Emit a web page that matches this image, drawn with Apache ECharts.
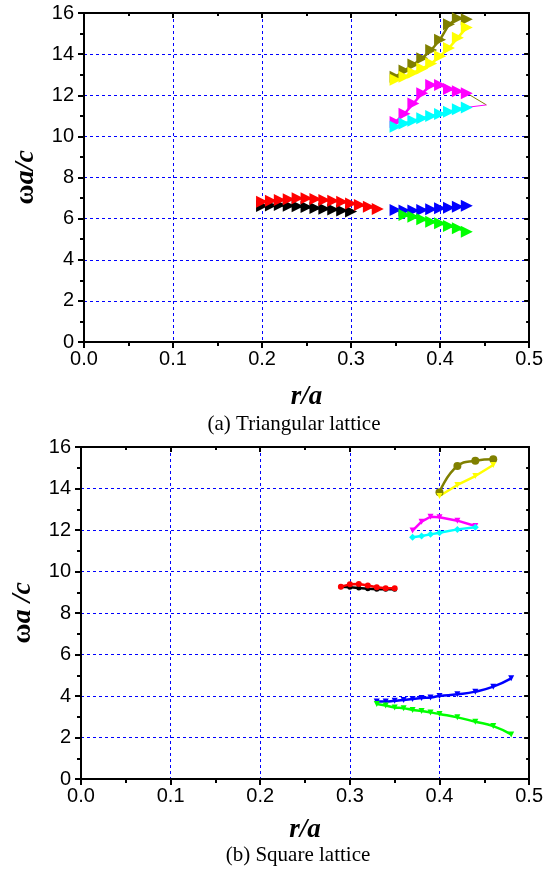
<!DOCTYPE html>
<html>
<head>
<meta charset="utf-8">
<script src="https://cdn.jsdelivr.net/npm/echarts@6/dist/echarts.min.js"></script>
<style>
html,body{margin:0;padding:0;background:#fff;}
#c{width:546px;height:870px;}
</style>
</head>
<body>
<div id="c"></div>
<script>
// ---------- data: (a) triangular lattice ----------
const triBlackR   = [0.20,0.21,0.22,0.23,0.24,0.25,0.26,0.27,0.28,0.29,0.30];
const triBlackW   = [6.62,6.64,6.66,6.63,6.60,6.56,6.52,6.48,6.44,6.40,6.35];
const triRedR     = [0.20,0.21,0.22,0.23,0.24,0.25,0.26,0.27,0.28,0.29,0.30,0.31,0.32,0.33];
const triRedW     = [6.82,6.87,6.91,6.94,6.99,6.99,6.95,6.91,6.87,6.82,6.74,6.66,6.58,6.47];
const triBlueR    = [0.35,0.36,0.37,0.38,0.39,0.40,0.41,0.42,0.43];
const triBlueW    = [6.42,6.39,6.39,6.42,6.45,6.50,6.53,6.58,6.63];
const triGreenR   = [0.36,0.37,0.38,0.39,0.40,0.41,0.42,0.43];
const triGreenW   = [6.18,6.09,5.97,5.85,5.77,5.64,5.53,5.36];
const triMagentaR = [0.35,0.36,0.37,0.38,0.39,0.40,0.41,0.42,0.43];
const triMagentaW = [10.70,11.10,11.60,12.10,12.50,12.50,12.30,12.20,12.10];
const triCyanR    = [0.35,0.36,0.37,0.38,0.39,0.40,0.41,0.42,0.43];
const triCyanW    = [10.47,10.63,10.76,10.88,10.99,11.09,11.20,11.32,11.41];
const triOliveR   = [0.35,0.36,0.37,0.38,0.39,0.40,0.41,0.42,0.43];
const triOliveW   = [12.90,13.20,13.50,13.80,14.20,14.70,15.45,15.75,15.70];
const triYellowR  = [0.35,0.36,0.37,0.38,0.39,0.40,0.41,0.42,0.43];
const triYellowW  = [12.75,12.90,13.10,13.30,13.55,13.90,14.30,14.80,15.30];
const triStrayOliveR   = [0.43,0.452];
const triStrayOliveW   = [12.10,11.53];
const triStrayMagentaR = [0.43,0.452];
const triStrayMagentaW = [11.41,11.53];

// ---------- data: (b) square lattice ----------
const sqBlackR   = [0.29,0.30,0.31,0.32,0.33,0.34,0.35];
const sqBlackW   = [9.27,9.24,9.20,9.17,9.15,9.14,9.14];
const sqRedR     = [0.29,0.30,0.31,0.32,0.33,0.34,0.35];
const sqRedW     = [9.27,9.38,9.40,9.33,9.24,9.19,9.19];
const sqBlueR    = [0.33,0.34,0.35,0.36,0.37,0.38,0.39,0.40,0.42,0.44,0.46,0.48];
const sqBlueW    = [3.74,3.73,3.77,3.81,3.86,3.90,3.93,4.00,4.08,4.21,4.45,4.85];
const sqGreenR   = [0.33,0.34,0.35,0.36,0.37,0.38,0.39,0.40,0.42,0.44,0.46,0.48];
const sqGreenW   = [3.61,3.54,3.45,3.41,3.33,3.28,3.21,3.13,2.97,2.76,2.55,2.15];
const sqMagentaR = [0.37,0.38,0.39,0.40,0.42,0.44];
const sqMagentaW = [11.97,12.40,12.64,12.61,12.45,12.19];
const sqCyanR    = [0.37,0.38,0.39,0.40,0.42,0.44];
const sqCyanW    = [11.65,11.71,11.79,11.87,12.03,12.13];
const sqOliveR   = [0.40,0.42,0.44,0.46];
const sqOliveW   = [13.82,15.08,15.34,15.41];
const sqYellowR  = [0.40,0.42,0.44,0.46];
const sqYellowW  = [13.64,14.17,14.60,15.13];

const xMin = 0, xMax = 0.5, xStep = 0.1;
const yMin = 0, yMax = 16, yStep = 2;
const captionA = '(a) Triangular lattice';
const captionB = '(b) Square lattice';

// ---------- build ----------
const pair = (r, w) => r.map((v, i) => [v, w[i]]);
const chart = echarts.init(document.getElementById('c'));

const SANS = '"Liberation Sans", Arial, sans-serif';
const SERIF = '"Liberation Serif", "Times New Roman", serif';

function xAxes(gi, name, gap) {
  return [
    {
      gridIndex: gi, type: 'value', min: xMin, max: xMax, interval: xStep,
      position: 'bottom',
      name: name, nameLocation: 'middle', nameGap: gap,
      nameTextStyle: { fontFamily: SERIF, fontSize: 27, fontWeight: 'bold', fontStyle: 'italic', color: '#000' },
      axisLine: { show: true, onZero: false, lineStyle: { color: '#000', width: 2 } },
      axisTick: { show: true, inside: false, length: 6, lineStyle: { color: '#000', width: 2 } },
      minorTick: { show: true, splitNumber: 2, length: 4, lineStyle: { color: '#000', width: 2 } },
      axisLabel: { margin: 7, fontFamily: SANS, fontSize: 20, color: '#000', formatter: v => v.toFixed(1) },
      splitLine: { show: true, lineStyle: { color: '#0000ff', type: [3, 3], width: 1 } }
    },
    {
      gridIndex: gi, type: 'value', min: xMin, max: xMax, interval: xStep,
      position: 'top',
      axisLine: { show: true, onZero: false, lineStyle: { color: '#000', width: 2 } },
      axisTick: { show: true, inside: true, length: 5, lineStyle: { color: '#000', width: 2 } },
      minorTick: { show: true, splitNumber: 2, length: 3, lineStyle: { color: '#000', width: 2 } },
      axisLabel: { show: false },
      splitLine: { show: false }
    }
  ];
}

function yAxes(gi, nameRich) {
  return [
    {
      gridIndex: gi, type: 'value', min: yMin, max: yMax, interval: yStep,
      position: 'left',
      name: nameRich, nameLocation: 'middle', nameGap: 44,
      nameTextStyle: {
        color: '#000',
        rich: {
          w: { fontFamily: SERIF, fontSize: 28, fontWeight: 'bold', color: '#000' },
          i: { fontFamily: SERIF, fontSize: 28, fontWeight: 'bold', fontStyle: 'italic', color: '#000' }
        }
      },
      axisLine: { show: true, onZero: false, lineStyle: { color: '#000', width: 2 } },
      axisTick: { show: true, inside: false, length: 6, lineStyle: { color: '#000', width: 2 } },
      minorTick: { show: true, splitNumber: 2, length: 4, lineStyle: { color: '#000', width: 2 } },
      axisLabel: { margin: 10, fontFamily: SANS, fontSize: 20, color: '#000' },
      splitLine: { show: true, lineStyle: { color: '#0000ff', type: [3, 3], width: 1 } }
    },
    {
      gridIndex: gi, type: 'value', min: yMin, max: yMax, interval: yStep,
      position: 'right',
      axisLine: { show: true, onZero: false, lineStyle: { color: '#000', width: 2 } },
      axisTick: { show: true, inside: true, length: 5, lineStyle: { color: '#000', width: 2 } },
      minorTick: { show: true, splitNumber: 2, length: 3, lineStyle: { color: '#000', width: 2 } },
      axisLabel: { show: false },
      splitLine: { show: false }
    }
  ];
}

function triSeries(name, color, r, w, opts) {
  return Object.assign({
    name: name, type: 'line', xAxisIndex: 0, yAxisIndex: 0,
    data: pair(r, w),
    symbol: 'triangle', symbolSize: [12, 12], symbolRotate: -90,
    lineStyle: { color: color, width: 2.5 },
    itemStyle: { color: color },
    animation: false
  }, opts || {});
}
function sqSeries(name, color, r, w, opts) {
  return Object.assign({
    name: name, type: 'line', xAxisIndex: 2, yAxisIndex: 2,
    data: pair(r, w),
    symbol: 'triangle', symbolSize: 6, symbolRotate: 180,
    lineStyle: { color: color, width: 2.5 },
    itemStyle: { color: color },
    animation: false
  }, opts || {});
}

const option = {
  backgroundColor: '#fff',
  animation: false,
  grid: [
    { left: 84, top: 13, width: 446, height: 329 },
    { left: 81, top: 447, width: 451, height: 332 }
  ],
  xAxis: [...xAxes(0, 'r/a', 42), ...xAxes(1, 'r/a', 38)],
  yAxis: [
    ...yAxes(0, '{w|ω}{i|a/c}'),
    ...yAxes(1, '{w|ω}{i|a /c}')
  ],
  graphic: [
    { type: 'text', x: 294, y: 414, style: { text: captionA, font: '21px ' + SERIF, fill: '#000', textAlign: 'center', textVerticalAlign: 'top' } },
    { type: 'text', x: 298, y: 845, style: { text: captionB, font: '21px ' + SERIF, fill: '#000', textAlign: 'center', textVerticalAlign: 'top' } }
  ],
  series: [
    triSeries('black', '#000000', triBlackR, triBlackW),
    triSeries('red', '#ff0000', triRedR, triRedW),
    triSeries('blue', '#0000ff', triBlueR, triBlueW),
    triSeries('green', '#00ff00', triGreenR, triGreenW),
    triSeries('magenta', '#ff00ff', triMagentaR, triMagentaW),
    triSeries('cyan', '#00ffff', triCyanR, triCyanW),
    triSeries('olive', '#808000', triOliveR, triOliveW),
    triSeries('yellow', '#ffff00', triYellowR, triYellowW),
    triSeries('stray-olive', '#808000', triStrayOliveR, triStrayOliveW, { symbol: 'none', lineStyle: { color: '#808000', width: 1 } }),
    triSeries('stray-magenta', '#ff00ff', triStrayMagentaR, triStrayMagentaW, { symbol: 'none', lineStyle: { color: '#ff00ff', width: 1 } }),

    sqSeries('black', '#000000', sqBlackR, sqBlackW, { symbol: 'circle', symbolSize: 5 }),
    sqSeries('red', '#ff0000', sqRedR, sqRedW, { symbol: 'circle', symbolSize: 6 }),
    sqSeries('blue', '#0000ff', sqBlueR, sqBlueW, { smooth: true }),
    sqSeries('green', '#00ff00', sqGreenR, sqGreenW, { smooth: true }),
    sqSeries('magenta', '#ff00ff', sqMagentaR, sqMagentaW),
    sqSeries('cyan', '#00ffff', sqCyanR, sqCyanW, { symbol: 'diamond', symbolSize: 7 }),
    sqSeries('olive', '#808000', sqOliveR, sqOliveW, { symbol: 'circle', symbolSize: 8, smooth: true }),
    sqSeries('yellow', '#ffff00', sqYellowR, sqYellowW)
  ]
};
chart.setOption(option);
</script>
</body>
</html>
